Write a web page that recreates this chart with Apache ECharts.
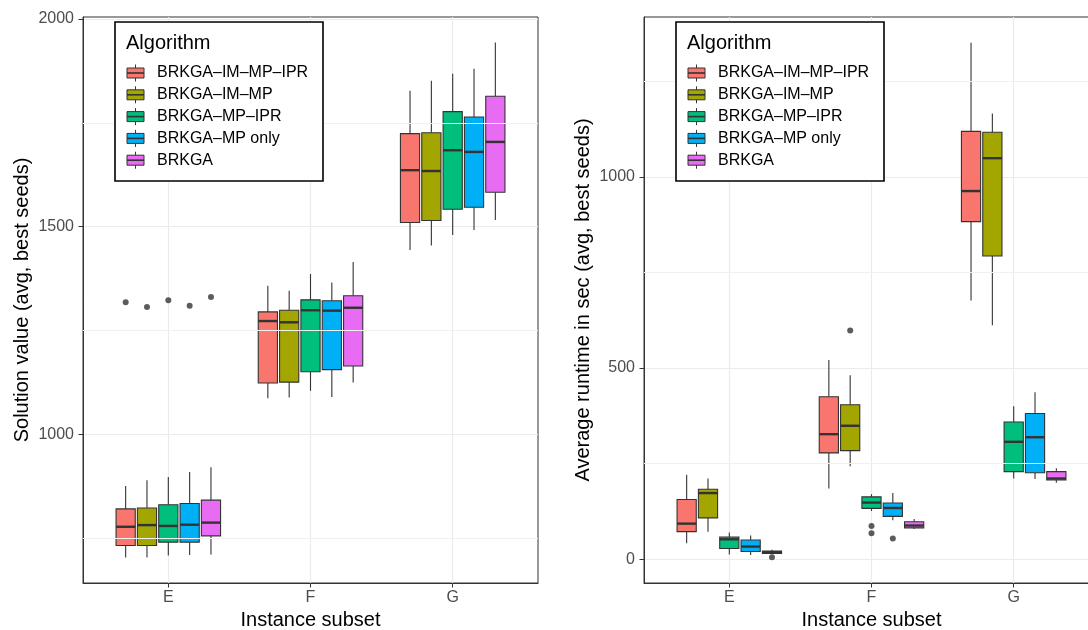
<!DOCTYPE html>
<html>
<head>
<meta charset="utf-8">
<script src="https://cdn.jsdelivr.net/npm/echarts@6/dist/echarts.min.js"></script>
<style>
html,body{margin:0;padding:0;background:#fff;overflow:hidden;}
#chart{width:1088px;height:630px;}
</style>
</head>
<body>
<div id="chart"></div>
<script>
// ---------- data ----------
const categories = ['E', 'F', 'G'];
const algorithms = ['BRKGA\u2013IM\u2013MP\u2013IPR', 'BRKGA\u2013IM\u2013MP', 'BRKGA\u2013MP\u2013IPR', 'BRKGA\u2013MP only', 'BRKGA'];
const colors = ['#F8766D', '#A3A500', '#00BF7D', '#00B0F6', '#E76BF3'];

// [min whisker, Q1, median, Q3, max whisker] per algorithm
const solutionE = [[704,733,778,821,876],[704,733,782,823,890],[709,741,780,831,898],[710,741,783,834,910],[711,756,788,842,921]];
const solutionF = [[1087,1124,1273,1295,1358],[1089,1126,1270,1299,1346],[1105,1151,1299,1324,1386],[1090,1156,1298,1322,1366],[1125,1165,1305,1334,1415]];
const solutionG = [[1444,1510,1636,1724,1827],[1455,1515,1634,1726,1851],[1480,1542,1684,1777,1868],[1492,1547,1680,1764,1880],[1516,1583,1704,1814,1943]];
// outliers: [category, algorithm index, value]
const solutionOutliers = [['E',0,1318],['E',1,1307],['E',2,1323],['E',3,1310],['E',4,1331]];

const runtimeE = [[42,72,93,156,221],[72,108,173,183,211],[12,28,52,58,70],[11,20,33,50,62],[13,15,18,21,25]];
const runtimeF = [[185,278,327,425,521],[243,284,349,404,481],[126,133,148,163,170],[102,112,134,147,173],[79,82,88,98,105]];
const runtimeG = [[677,883,963,1119,1351],[612,793,1049,1117,1166],[211,229,307,359,400],[210,226,319,381,437],[200,207,211,229,238]];
const runtimeOutliers = [['E',4,5],['F',1,598],['F',2,87],['F',2,68],['F',3,54]];

const solutionTicks = [1000, 1500, 2000];
const solutionMinor = [750, 1250, 1750];
const runtimeTicks = [0, 500, 1000];
const runtimeMinor = [250, 750, 1250];

// ---------- layout ----------
const FONT = '"Liberation Sans", Arial, Helvetica, sans-serif';
const DODGE = 0.15, BOXW = 0.135;
const panels = [
  {left: 83, name: 'Solution value (avg, best seeds)', min: 642.7, max: 2004.6, ticks: solutionTicks, minor: solutionMinor,
   data: [solutionE, solutionF, solutionG], outliers: solutionOutliers},
  {left: 644, name: 'Average runtime in sec (avg, best seeds)', min: -62.3, max: 1418.3, ticks: runtimeTicks, minor: runtimeMinor,
   data: [runtimeE, runtimeF, runtimeG], outliers: runtimeOutliers}
];

function xPos(catIdx, algIdx) { return catIdx + 1 + (algIdx - 2) * DODGE; }

function renderBox(params, api) {
  const x = api.value(0);
  const pLo = api.coord([x, api.value(1)]);
  const pQ1 = api.coord([x, api.value(2)]);
  const pMed = api.coord([x, api.value(3)]);
  const pQ3 = api.coord([x, api.value(4)]);
  const pHi = api.coord([x, api.value(5)]);
  const half = api.size([BOXW, 0])[0] / 2;
  const color = api.visual('color');
  return {
    type: 'group',
    children: [
      {type: 'line', shape: {x1: pHi[0], y1: pHi[1], x2: pQ3[0], y2: pQ3[1]}, style: {stroke: '#333333', lineWidth: 1.1}},
      {type: 'line', shape: {x1: pQ1[0], y1: pQ1[1], x2: pLo[0], y2: pLo[1]}, style: {stroke: '#333333', lineWidth: 1.1}},
      {type: 'rect', shape: {x: pQ3[0] - half, y: pQ3[1], width: half * 2, height: pQ1[1] - pQ3[1]},
       style: {fill: color, stroke: '#333333', lineWidth: 1.1}},
      {type: 'line', shape: {x1: pMed[0] - half, y1: pMed[1], x2: pMed[0] + half, y2: pMed[1]}, style: {stroke: '#333333', lineWidth: 2.4}}
    ]
  };
}

const grids = [], xAxes = [], yAxes = [], series = [], graphics = [];
panels.forEach((p, pi) => {
  grids.push({left: p.left, width: 455, top: 17, height: 566, show: true, borderColor: '#333333', borderWidth: 1,
    backgroundColor: '#fff', containLabel: false, outerBoundsMode: 'none'});
  xAxes.push({
    type: 'value', gridIndex: pi, min: 0.4, max: 3.6,
    name: 'Instance subset', nameLocation: 'middle', nameGap: 27,
    nameTextStyle: {fontFamily: FONT, fontSize: 20, color: '#000'},
    axisLine: {onZero: false, lineStyle: {color: '#333333'}},
    axisTick: {show: true, length: 4.5, customValues: [1, 2, 3], lineStyle: {color: '#333333'}},
    axisLabel: {customValues: [1, 2, 3], margin: 7, fontFamily: FONT, fontSize: 16, color: '#4D4D4D',
      formatter: v => categories[Math.round(v) - 1] || ''},
    splitLine: {show: true, lineStyle: {color: '#EBEBEB', width: 1.2}}
  });
  yAxes.push({
    type: 'value', gridIndex: pi, min: p.min, max: p.max,
    name: p.name, nameLocation: 'middle', nameGap: 51, nameRotate: 90,
    nameTextStyle: {fontFamily: FONT, fontSize: 20, color: '#000'},
    axisLine: {show: true, lineStyle: {color: '#333333'}},
    axisTick: {show: true, length: 4.5, customValues: p.ticks, lineStyle: {color: '#333333'}},
    axisLabel: {customValues: p.ticks, margin: 9, fontFamily: FONT, fontSize: 16, color: '#4D4D4D',
      formatter: v => String(Math.round(v))},
    splitLine: {show: true, lineStyle: {color: '#EBEBEB', width: 1.2}}
  });
  // minor grid lines
  series.push({
    type: 'scatter', xAxisIndex: pi, yAxisIndex: pi, data: [], z: 1, silent: true,
    markLine: {silent: true, symbol: ['none', 'none'], label: {show: false},
      lineStyle: {color: '#F0F0F0', width: 1, type: 'solid'},
      data: p.minor.map(v => ({yAxis: v}))}
  });
  algorithms.forEach((alg, ai) => {
    series.push({
      type: 'custom', name: alg, xAxisIndex: pi, yAxisIndex: pi, z: 3,
      itemStyle: {color: colors[ai]},
      renderItem: renderBox,
      encode: {x: 0, y: [1, 2, 3, 4, 5]},
      data: p.data.map((catData, ci) => [xPos(ci, ai)].concat(catData[ai]))
    });
  });
  series.push({
    type: 'scatter', xAxisIndex: pi, yAxisIndex: pi, z: 4, symbolSize: 6,
    itemStyle: {color: '#333333'},
    data: p.outliers.map(o => [xPos(categories.indexOf(o[0]), o[1]), o[2]])
  });

  // legend (drawn as graphic text/shapes)
  const lx = p.left + 32, ly = 22;
  graphics.push({type: 'rect', z: 100, shape: {x: lx, y: ly, width: 208, height: 159},
    style: {fill: '#fff', stroke: '#000', lineWidth: 1.6}});
  graphics.push({type: 'text', x: lx + 11, y: ly + 21, z: 101,
    style: {text: 'Algorithm', fontFamily: FONT, fontSize: 20, fill: '#000', verticalAlign: 'middle'}});
  algorithms.forEach((alg, ai) => {
    const cy = ly + 51 + ai * 21.8;
    const kx = lx + 12;
    graphics.push({type: 'line', z: 101, shape: {x1: kx + 8.5, y1: cy - 8.5, x2: kx + 8.5, y2: cy + 8.5}, style: {stroke: '#333333', lineWidth: 1}});
    graphics.push({type: 'rect', z: 102, shape: {x: kx, y: cy - 5, width: 17, height: 10}, style: {fill: colors[ai], stroke: '#333333', lineWidth: 1}});
    graphics.push({type: 'line', z: 103, shape: {x1: kx, y1: cy, x2: kx + 17, y2: cy}, style: {stroke: '#333333', lineWidth: 1.6}});
    graphics.push({type: 'text', z: 103, x: lx + 42, y: cy,
      style: {text: alg, fontFamily: FONT, fontSize: 16, fill: '#000', verticalAlign: 'middle'}});
  });
});

const chart = echarts.init(document.getElementById('chart'), null, {renderer: 'canvas'});
chart.setOption({
  animation: false,
  backgroundColor: '#fff',
  grid: grids,
  xAxis: xAxes,
  yAxis: yAxes,
  series: series,
  graphic: graphics
});
</script>
</body>
</html>
